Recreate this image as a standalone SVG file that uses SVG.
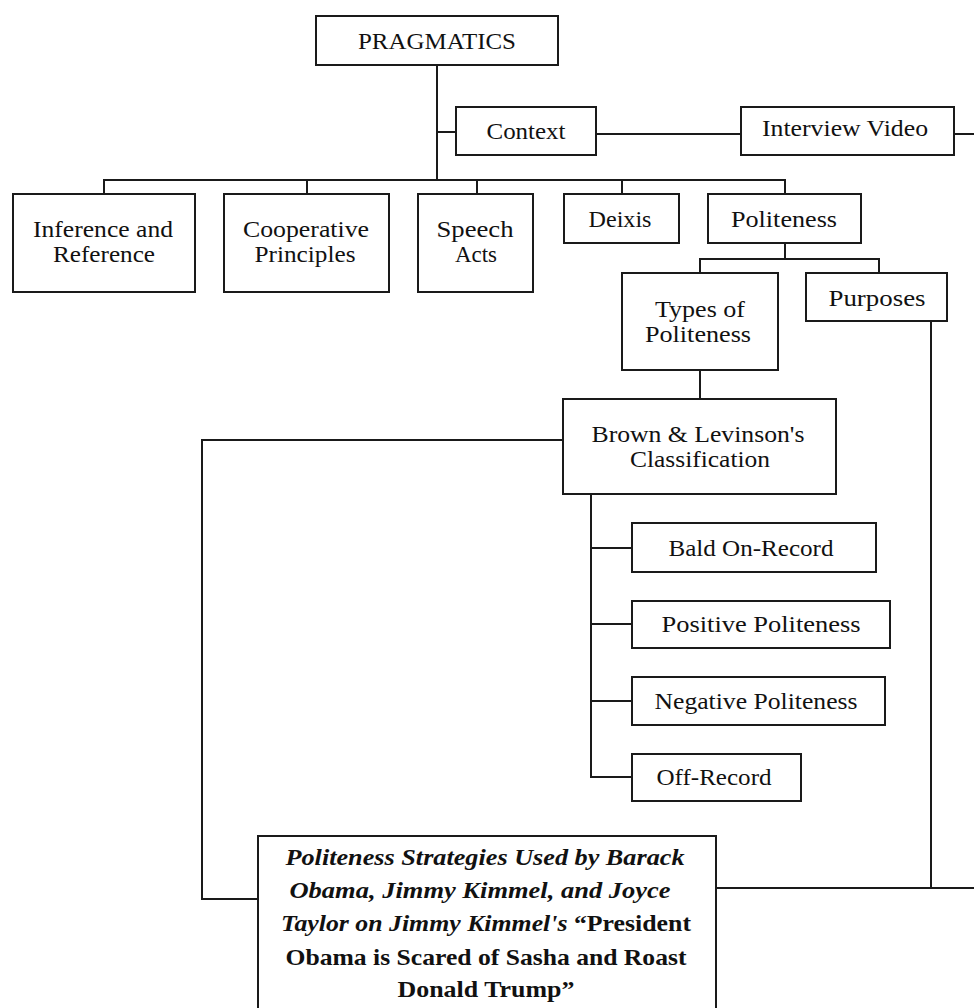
<svg xmlns="http://www.w3.org/2000/svg" width="974" height="1008" viewBox="0 0 974 1008">
<style>
.box{fill:#fff;stroke:#1a1a1a;stroke-width:2}
.t{font-family:"Liberation Serif","Times New Roman",serif;font-size:24px;fill:#111;text-anchor:middle}
.c{fill:none;stroke:#1a1a1a;stroke-width:2}
.s{font-family:"Liberation Serif","Times New Roman",serif;font-size:23px;font-weight:bold;fill:#111;text-anchor:middle}
.i{font-style:italic}
</style>
<rect width="974" height="1008" fill="#fff"/>
<g id="connectors">
<path class="c" d="M437 65V180M437 132H456M596 134H741M954 134H974M104 194V180H785V194M307 180V194M477 180V194M622 180V194"/>
<path class="c" d="M785 243V259M700 273V259H879V273M700 370V399"/>
<path class="c" d="M563 440H202V899H258M591 494V777H632M591 548H632M591 624H632M591 701H632"/>
<path class="c" d="M931 321V888M716 888H974"/>
</g>
<g id="pragmatics"><rect class="box" x="316" y="16" width="242" height="49"/><text class="t" x="437" y="49" textLength="158" lengthAdjust="spacingAndGlyphs">PRAGMATICS</text></g>
<g id="context"><rect class="box" x="456" y="107" width="140" height="48"/><text class="t" x="526" y="139" textLength="79" lengthAdjust="spacingAndGlyphs">Context</text></g>
<g id="interview"><rect class="box" x="741" y="107" width="213" height="48"/><text class="t" x="845" y="136" textLength="166" lengthAdjust="spacingAndGlyphs">Interview Video</text></g>
<g id="inference"><rect class="box" x="13" y="194" width="182" height="98"/><text class="t" x="103" y="237" textLength="140" lengthAdjust="spacingAndGlyphs">Inference and</text><text class="t" x="104" y="262" textLength="102" lengthAdjust="spacingAndGlyphs">Reference</text></g>
<g id="cooperative"><rect class="box" x="224" y="194" width="165" height="98"/><text class="t" x="306" y="237" textLength="126" lengthAdjust="spacingAndGlyphs">Cooperative</text><text class="t" x="305" y="262" textLength="101" lengthAdjust="spacingAndGlyphs">Principles</text></g>
<g id="speech"><rect class="box" x="418" y="194" width="115" height="98"/><text class="t" x="475" y="237" textLength="77" lengthAdjust="spacingAndGlyphs">Speech</text><text class="t" x="476" y="262" textLength="42" lengthAdjust="spacingAndGlyphs">Acts</text></g>
<g id="deixis"><rect class="box" x="564" y="194" width="115" height="49"/><text class="t" x="620" y="227" textLength="63" lengthAdjust="spacingAndGlyphs">Deixis</text></g>
<g id="politeness"><rect class="box" x="708" y="194" width="153" height="49"/><text class="t" x="784" y="227" textLength="106" lengthAdjust="spacingAndGlyphs">Politeness</text></g>
<g id="types"><rect class="box" x="622" y="273" width="156" height="97"/><text class="t" x="700" y="317" textLength="90" lengthAdjust="spacingAndGlyphs">Types of</text><text class="t" x="698" y="342" textLength="106" lengthAdjust="spacingAndGlyphs">Politeness</text></g>
<g id="purposes"><rect class="box" x="806" y="273" width="141" height="48"/><text class="t" x="877" y="306" textLength="97" lengthAdjust="spacingAndGlyphs">Purposes</text></g>
<g id="brown"><rect class="box" x="563" y="399" width="273" height="95"/><text class="t" x="698" y="442" textLength="213" lengthAdjust="spacingAndGlyphs">Brown &amp; Levinson's</text><text class="t" x="700" y="467" textLength="140" lengthAdjust="spacingAndGlyphs">Classification</text></g>
<g id="bald"><rect class="box" x="632" y="523" width="244" height="49"/><text class="t" x="751" y="556" textLength="165" lengthAdjust="spacingAndGlyphs">Bald On-Record</text></g>
<g id="positive"><rect class="box" x="632" y="601" width="258" height="47"/><text class="t" x="761" y="632" textLength="199" lengthAdjust="spacingAndGlyphs">Positive Politeness</text></g>
<g id="negative"><rect class="box" x="632" y="677" width="253" height="48"/><text class="t" x="756" y="709" textLength="203" lengthAdjust="spacingAndGlyphs">Negative Politeness</text></g>
<g id="offrecord"><rect class="box" x="632" y="754" width="169" height="47"/><text class="t" x="714" y="785" textLength="115" lengthAdjust="spacingAndGlyphs">Off-Record</text></g>
<g id="strategies"><rect class="box" x="258" y="836" width="458" height="180"/>
<text class="s i" x="485" y="865" textLength="399" lengthAdjust="spacingAndGlyphs">Politeness Strategies Used by Barack</text>
<text class="s i" x="480" y="898" textLength="381" lengthAdjust="spacingAndGlyphs">Obama, Jimmy Kimmel, and Joyce</text>
<text class="s" x="486" y="931" textLength="410" lengthAdjust="spacingAndGlyphs"><tspan class="i">Taylor on Jimmy Kimmel's</tspan> “President</text>
<text class="s" x="486" y="965" textLength="401" lengthAdjust="spacingAndGlyphs">Obama is Scared of Sasha and Roast</text>
<text class="s" x="486" y="997" textLength="177" lengthAdjust="spacingAndGlyphs">Donald Trump”</text>
</g>
</svg>
